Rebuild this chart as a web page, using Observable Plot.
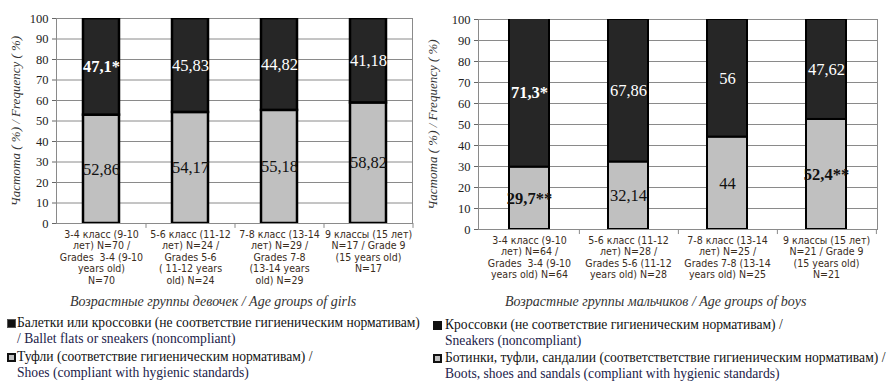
<!DOCTYPE html>
<html><head><meta charset="utf-8">
<script src="https://cdn.jsdelivr.net/npm/d3@7"></script>
<script src="https://cdn.jsdelivr.net/npm/@observablehq/plot@0.6"></script>
<style>
body{margin:0;background:#fff;width:891px;height:391px;overflow:hidden;position:relative;font-family:"Liberation Serif","Times New Roman",serif}
.chart{position:absolute;top:0}
.title{position:absolute;font-style:italic;font-size:14px;color:#333;text-align:center;white-space:nowrap}
.leg{position:absolute;font-size:13.6px;line-height:16px;color:#111;white-space:nowrap}
.item{position:relative;padding-left:10px}
.item+.item{margin-top:1px}
.en{color:#22224a}
.sw{position:absolute;left:0;top:3.5px;width:9px;height:9px;box-sizing:border-box}
.sw.dark{background:#111;border:1.5px solid #555}
.sw.dark2{background:#111;border:1px solid #111}
.sw.grey{background:#c0c0c0;border:2px solid #111}
</style></head><body>
<div id="left" class="chart" style="left:0"></div>
<div id="right" class="chart" style="left:420px"></div>
<div class="title" style="left:70px;top:294px;width:280px">Возрастные группы девочек / Age groups of girls</div>
<div class="title" style="left:505px;top:294px;width:290px">Возрастные группы мальчиков / Age groups of boys</div>
<div class="leg" style="left:7px;top:315px">
  <div class="item"><span class="sw dark"></span>Балетки или кроссовки (не соответствие гигиеническим нормативам)<br><span class="en">/ Ballet flats or sneakers (noncompliant)</span></div>
  <div class="item" style="margin-top:2px"><span class="sw grey"></span>Туфли (соответствие гигиеническим нормативам) /<br><span class="en">Shoes (compliant with hygienic standards)</span></div>
</div>
<div class="leg" style="left:433px;top:317px">
  <div class="item" style="padding-left:12px"><span class="sw dark2"></span>Кроссовки (не соответствие гигиеническим нормативам) /<br><span class="en">Sneakers (noncompliant)</span></div>
  <div class="item" style="padding-left:12px"><span class="sw grey"></span>Ботинки, туфли, сандалии (соответстветствие гигиеническим нормативам) /<br><span class="en">Boots, shoes and sandals (compliant with hygienic standards)</span></div>
</div>
<script>
const yLabel = "Частота ( %) / Frequency ( %)";
const yTicks = [0, 10, 20, 30, 40, 50, 60, 70, 80, 90, 100];

const girlsGroups = [
  "3-4 класс (9-10\nлет) N=70 /\nGrades  3-4 (9-10\nyears old)\nN=70",
  "5-6 класс (11-12\nлет) N=24 /\nGrades 5-6\n( 11-12 years\nold) N=24",
  "7-8 класс (13-14\nлет) N=29 /\nGrades 7-8\n(13-14 years\nold) N=29",
  "9 классы (15 лет)\nN=17 / Grade 9\n(15 years old)\nN=17"
];
const girlsCompliant = [52.86, 54.17, 55.18, 58.82];
const girlsNoncompliant = [47.1, 45.83, 44.82, 41.18];
const girlsCompliantLabels = ["52,86", "54,17", "55,18", "58,82"];
const girlsNoncompliantLabels = ["47,1*", "45,83", "44,82", "41,18"];

const boysGroups = [
  "3-4 класс (9-10\nлет) N=64 /\nGrades  3-4 (9-10\nyears old) N=64",
  "5-6 класс (11-12\nлет) N=28 /\nGrades 5-6 (11-12\nyears old) N=28",
  "7-8 класс (13-14\nлет) N=25 /\nGrades 7-8 (13-14\nyears old) N=25",
  "9 классы (15 лет)\nN=21 / Grade 9\n(15 years old)\nN=21"
];
const boysCompliant = [29.7, 32.14, 44, 52.4];
const boysNoncompliant = [71.3, 67.86, 56, 47.62];
const boysCompliantLabels = ["29,7**", "32,14", "44", "52,4**"];
const boysNoncompliantLabels = ["71,3*", "67,86", "56", "47,62"];

function hasFont(name) {
  const c = document.createElement("canvas").getContext("2d");
  const s = "mmmmmmmmmmlli WWW 1234 класс (9-10)";
  for (const base of ["monospace", "serif", "sans-serif"]) {
    c.font = "40px " + base; const w0 = c.measureText(s).width;
    c.font = `40px "${name}", ${base}`; const w1 = c.measureText(s).width;
    if (Math.abs(w0 - w1) > 0.01) return true;
  }
  return false;
}
const narrowCand = ["Liberation Sans Narrow", "DejaVu Sans Condensed", "Arial Narrow"].filter(hasFont);
const narrow = narrowCand.length ? narrowCand[0] : null;
const serif = hasFont("Liberation Serif") ? "Liberation Serif" : "DejaVu Serif";
const tickFont = narrow ? `"${narrow}", sans-serif` : `Roboto, sans-serif`;
const tickFontSize = narrow === "DejaVu Sans Condensed" ? 10.5 : narrow ? 12 : 10.5;
const serifFont = `"${serif}", serif`;

function rows(groups, comp, non, compL, nonL) {
  const out = [];
  groups.forEach((g, i) => out.push({group: g, kind: "compliant", value: comp[i], base: 0, label: compL[i]}));
  groups.forEach((g, i) => out.push({group: g, kind: "noncompliant", value: non[i], base: comp[i], label: nonL[i]}));
  return out;
}

function chart(groups, data, o) {
  const step = (o.width - o.ml - o.mr) / groups.length;
  const mid = d => d.base + d.value / 2;
  const labelFill = d => d.kind === "noncompliant" ? "#fff" : "#111";
  const isBold = d => d.label.includes("*");
  return Plot.plot({
    width: o.width, height: o.height,
    marginLeft: o.ml, marginRight: o.mr, marginTop: o.mt, marginBottom: o.height - o.mt - o.ph,
    style: {background: "#fff"},
    x: {domain: groups, paddingInner: 0.6, paddingOuter: 0.3, axis: null},
    y: {domain: [0, 100], axis: null},
    color: {domain: ["compliant", "noncompliant"], range: ["#c0c0c0", "#262626"]},
    marks: [
      Plot.gridY(yTicks.slice(1), {stroke: "#8a8a8a", strokeOpacity: 1, strokeWidth: 1}),
      Plot.frame({stroke: "#8a8a8a"}),
      Plot.ruleY([0], {stroke: "#8a8a8a"}),
      Plot.ruleX(groups, {x: d => d, dx: step / 2, y1: 0, y2: -2.4, stroke: "#8a8a8a"}),
      Plot.axisY(yTicks, {tickSize: 4, tickPadding: 4, stroke: "#666", fontFamily: serifFont, fontSize: 12.5, fill: "#222", label: null}),
      Plot.axisX({tickSize: 0, tickPadding: 6, fontFamily: tickFont, fontSize: tickFontSize, lineHeight: 1.1, fill: "#3a2c1c", label: null}),
      Plot.text([yLabel], {frameAnchor: "left", textAnchor: "middle", rotate: -90, dx: -o.lo, fontStyle: "italic", fontFamily: serifFont, fontSize: 13, fill: "#333"}),
      Plot.barY(data, Plot.stackY({x: "group", y: "value", fill: "kind", stroke: "#000", strokeWidth: o.sw, clip: true, order: null})),
      Plot.text(data.filter(d => !isBold(d)), {x: "group", y: mid, text: "label", fill: labelFill, fontFamily: serifFont, fontSize: 16.5}),
      Plot.text(data.filter(isBold), {x: "group", y: mid, text: "label", fill: labelFill, fontWeight: "bold", fontFamily: serifFont, fontSize: 16.5})
    ]
  });
}

document.getElementById("left").append(chart(girlsGroups,
  rows(girlsGroups, girlsCompliant, girlsNoncompliant, girlsCompliantLabels, girlsNoncompliantLabels),
  {width: 420, height: 295, ml: 56, mr: 8, mt: 18, ph: 205, lo: 41, sw: 2.5}));
document.getElementById("right").append(chart(boysGroups,
  rows(boysGroups, boysCompliant, boysNoncompliant, boysCompliantLabels, boysNoncompliantLabels),
  {width: 471, height: 300, ml: 58, mr: 14, mt: 19, ph: 210, lo: 46, sw: 2}));
</script>
</body></html>
